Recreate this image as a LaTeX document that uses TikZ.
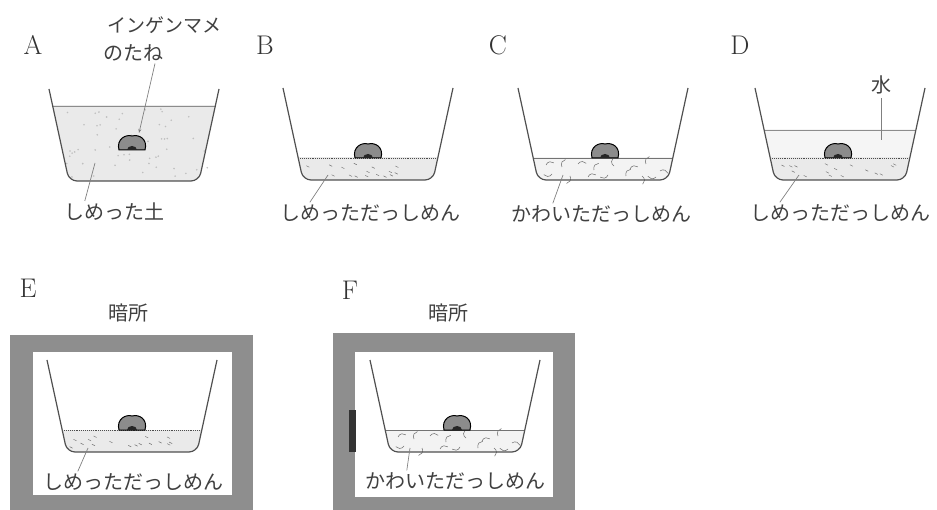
\documentclass[tikz,border=0pt]{standalone}
\usepackage{fontspec}
\newfontfamily\jpfont{Noto Sans CJK JP}
\usetikzlibrary{arrows.meta}

\definecolor{cupline}{RGB}{80,80,80}
\definecolor{soilfill}{RGB}{234,234,234}
\definecolor{waterfill}{RGB}{245,245,245}
\definecolor{beanfill}{RGB}{140,140,140}
\definecolor{boxgray}{RGB}{142,142,142}

\tikzset{
  cup/.style={draw=cupline, line width=1.2pt, rounded corners=8pt},
  jp/.style={font=\jpfont\fontsize{20}{20}\selectfont, inner sep=0pt, text=black!75},
  letter/.style={font=\fontsize{27}{27}\selectfont, inner sep=0pt, text=black!80},
  leader/.style={draw=gray, line width=0.7pt},
  bean/.style={fill=beanfill, draw=black, line width=1pt},
  surface/.style={draw=black!70, line width=0.9pt, densely dotted},
}

% cup with its top left corner at the origin of the scope
\newcommand{\cupwall}{\draw[cup] (0,0) -- (20,92) -- (150,92) -- (170,0);}
% fill the cup from level #1 down with colour #2
\newcommand{\cupfill}[2]{%
  \begin{scope}
    \clip (-5,#1) rectangle (175,100);
    \fill[#2, rounded corners=8pt] (0,0) -- (20,92) -- (150,92) -- (170,0) -- cycle;
  \end{scope}}
% bean, #1 x and #2 y of the middle of its base
\newcommand{\bean}[2]{%
  \begin{scope}[shift={(#1,#2)}]
    \filldraw[bean] (-13,0) .. controls (-16,-11) and (-6,-16) .. (0,-14)
      .. controls (7,-16) and (16,-11) .. (13,0) -- cycle;
    \fill[black!85] (-5,0) arc[start angle=180, end angle=360, x radius=5, y radius=4] -- cycle;
  \end{scope}}
% wet cotton: short strokes under the surface
\newcommand{\wetcotton}{%
  \foreach \i in {1,...,16}
    \draw[black!55, line width=0.5pt] ({22+125*rnd},{75+13*rnd}) -- ++(3,1.5);
  \draw[surface] (15.2,70) -- (154.8,70);}
% dry cotton: loose curled fibres
\newcommand{\drycotton}{%
  \foreach \x/\y/\a in {28/77/200, 44/79/150, 60/76/210, 76/82/160, 96/78/120,
      112/81/200, 128/76/150, 142/83/230, 34/86/30, 52/88/330, 70/89/200,
      90/87/20, 108/88/160, 124/88/300, 138/89/40}
    \draw[black!55, line width=0.55pt] (\x,\y) arc (\a:\a+110:5);
  \draw[black!55, line width=0.6pt] (15.2,70) -- (154.8,70);}

\begin{document}
\begin{tikzpicture}[x=1pt, y=-1pt]
  \useasboundingbox (0,0) rectangle (937,510);
  \pgfmathsetseed{5}

  % A: seed in moist soil
  \node[letter] (labA) at (33,45) {A};
  \begin{scope}[shift={(49,89)}]
    \cupfill{17}{soilfill}
    \begin{scope}
      \clip (-5,17) rectangle (175,100);
      \foreach \i in {1,...,55}
        \fill[gray!50] ({10+150*rnd},{20+68*rnd}) circle (0.9);
    \end{scope}
    \draw[black!45, line width=0.7pt] (3.7,17) -- (166.3,17);
    \bean{83}{61}
    \cupwall
  \end{scope}
  \node[jp, font=\jpfont\fontsize{19}{19}\selectfont] (seedA) at (164,25) {インゲンマメ};
  \node[jp] (seedB) at (133,53) {のたね};
  \coordinate (beanA) at (139,133);
  \draw[leader, -{Stealth[length=4pt, width=3pt]}] ([xshift=22pt, yshift=-2pt]seedB.south) -- (beanA);
  \node[jp] (txtA) at (114,212) {しめった土};
  \coordinate (ptA) at (95,163);
  \draw[leader] (ptA) -- ([xshift=21pt, yshift=2pt]txtA.north west);

  % B: moist cotton
  \node[letter] (labB) at (265,45) {B};
  \begin{scope}[shift={(283,88)}]
    \cupfill{70}{soilfill}
    \wetcotton
    \bean{85}{70}
    \cupwall
  \end{scope}
  \node[jp] (txtB) at (370,213) {しめっただっしめん};
  \coordinate (ptB) at (328,175);
  \draw[leader] (ptB) -- ([xshift=30pt, yshift=2pt]txtB.north west);

  % C: dry cotton
  \node[letter] (labC) at (498,45) {C};
  \begin{scope}[shift={(518,88)}]
    \cupfill{70}{soilfill!60!white}
    \drycotton
    \bean{87}{70}
    \cupwall
  \end{scope}
  \node[jp] (txtC) at (601,214) {かわいただっしめん};
  \coordinate (ptC) at (563,175);
  \draw[leader] (ptC) -- ([xshift=42pt, yshift=2pt]txtC.north west);

  % D: moist cotton under water
  \node[letter] (labD) at (740,45) {D};
  \begin{scope}[shift={(755,88)}]
    \cupfill{42}{waterfill}
    \draw[black!45, line width=0.8pt] (9.1,42) -- (160.9,42);
    \cupfill{70}{soilfill}
    \wetcotton
    \bean{83}{70}
    \cupwall
  \end{scope}
  \node[jp] (water) at (881,85) {水};
  \coordinate (waterD) at (881,140);
  \draw[leader] ([yshift=-4pt]water.south) -- (waterD);
  \node[jp] (txtD) at (840,213) {しめっただっしめん};
  \coordinate (ptD) at (799,175);
  \draw[leader] (ptD) -- ([xshift=30pt, yshift=2pt]txtD.north west);

  % E: moist cotton in the dark
  \node[letter] (labE) at (28,288) {E};
  \node[jp] (darkE) at (128,313) {暗所};
  \fill[boxgray] (10,335) rectangle (253,510);
  \fill[white] (33,352) rectangle (232,495);
  \begin{scope}[shift={(47,360)}]
    \cupfill{70}{soilfill}
    \wetcotton
    \bean{85}{70}
    \cupwall
  \end{scope}
  \node[jp] (txtE) at (133,482) {しめっただっしめん};
  \coordinate (ptE) at (88,448);
  \draw[leader] (ptE) -- ([xshift=35pt, yshift=2pt]txtE.north west);

  % F: dry cotton in the dark
  \node[letter] (labF) at (350,290) {F};
  \node[jp] (darkF) at (448,313) {暗所};
  \fill[boxgray] (333,333) rectangle (575,510);
  \fill[white] (355,352) rectangle (553,497);
  \fill[black!80] (349,410) rectangle (356,452);
  \begin{scope}[shift={(370,360)}]
    \cupfill{70}{soilfill!60!white}
    \drycotton
    \bean{87}{70}
    \cupwall
  \end{scope}
  \node[jp] (txtF) at (455,481) {かわいただっしめん};
  \coordinate (ptF) at (410,448);
  \draw[leader] (ptF) -- ([xshift=42pt, yshift=2pt]txtF.north west);
\end{tikzpicture}
\end{document}
